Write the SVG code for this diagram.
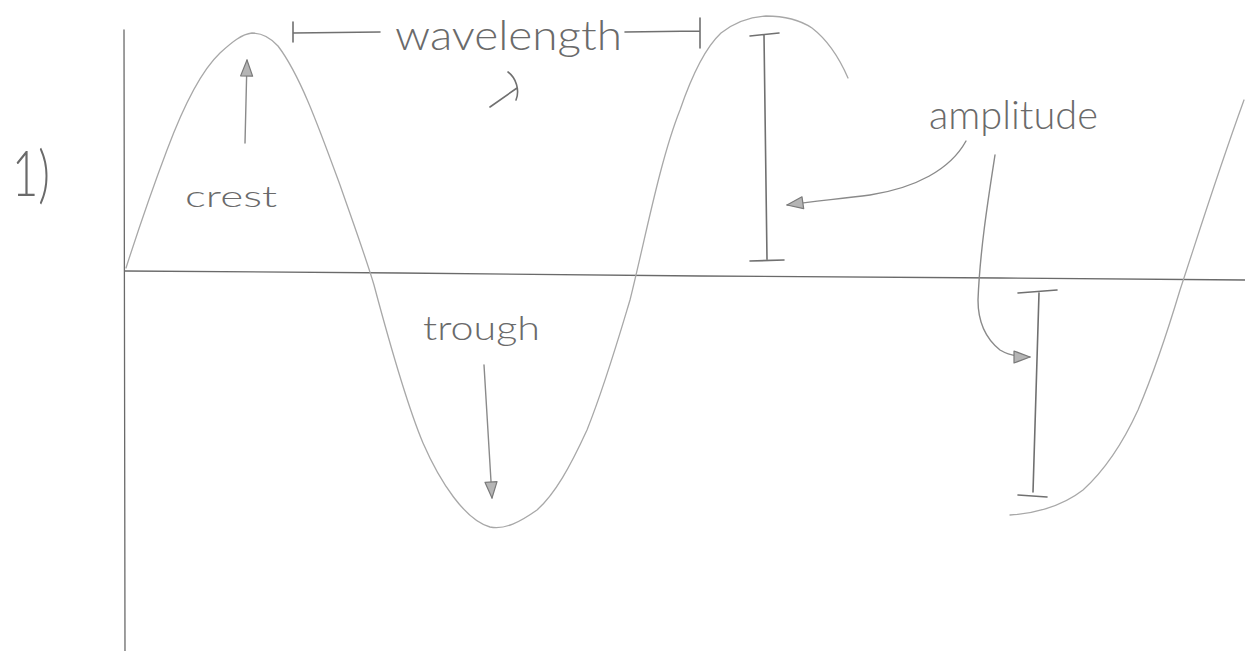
<svg xmlns="http://www.w3.org/2000/svg" width="1245" height="651" viewBox="0 0 1245 651">
<style>
.axis{fill:none;stroke:#6a6a6a;stroke-width:1.3;stroke-linecap:round}
.wave{fill:none;stroke:#a8a8a8;stroke-width:1.3;stroke-linecap:round;stroke-linejoin:round}
.ink{fill:none;stroke:#707070;stroke-width:1.6;stroke-linecap:round}
.conn{fill:none;stroke:#8a8a8a;stroke-width:1.4;stroke-linecap:round}
.lbl{font-family:Lato,"Liberation Sans",sans-serif;fill:#6a6a6a;font-weight:300}
</style>
<defs>
<marker id="ah" viewBox="0 0 18 14" refX="17" refY="7" markerWidth="18" markerHeight="14" markerUnits="userSpaceOnUse" orient="auto">
<path d="M1,1 L17,7 L1,13 Z" fill="#b5b5b5" stroke="#7a7a7a" stroke-width="1.2" stroke-linejoin="round"/>
</marker>
</defs>
<rect width="1245" height="651" fill="#ffffff"/>

<g id="axes">
<path class="axis" d="M124,30 L125,651"/>
<path class="axis" d="M125,271 L400,273 L700,276 L1000,278 L1245,280"/>
</g>

<g id="wave">
<path class="wave" d="M126,268 C135,240 150,195 167,150 C182,110 200,72 220,53 C232,42 242,34 252,33 C262,33 270,37 278,46 C300,75 318,125 340,185 C355,228 366,258 374,285 C386,330 405,400 423,443 C440,482 465,520 490,527 C505,530 520,522 537,510 C555,494 570,467 587,430 C605,385 618,340 630,300 C645,240 660,160 680,110 C692,75 705,48 721,33 C735,22 750,17 766,16 C785,16 800,20 812,28 C825,38 838,55 848,78"/>
<path class="wave" d="M1010,515 C1030,514 1060,508 1083,490 C1105,470 1122,445 1138,410 C1155,370 1168,330 1180,290 C1195,245 1215,180 1244,100"/>
</g>

<g id="label-1">
<text class="lbl" x="12" y="196" font-size="64" textLength="38" lengthAdjust="spacingAndGlyphs">1)</text>
</g>

<g id="label-crest">
<text class="lbl" x="185" y="207" font-size="30" textLength="92" lengthAdjust="spacingAndGlyphs">crest</text>
</g>

<g id="label-wavelength">
<path class="ink" d="M293,22 L293,42 M293,33 L380,32 M625,32 L700,31 M700,18 L700,48"/>
<text class="lbl" x="395" y="50" font-size="42" textLength="227" lengthAdjust="spacingAndGlyphs">wavelength</text>
<path class="ink" d="M490,107 L517,88 M508,72 C516,78 520,90 516,100"/>
</g>

<g id="label-trough">
<text class="lbl" x="423" y="340" font-size="34" textLength="117" lengthAdjust="spacingAndGlyphs">trough</text>
</g>

<g id="label-amplitude">
<text class="lbl" x="929" y="129" font-size="40" textLength="169" lengthAdjust="spacingAndGlyphs">amplitude</text>
</g>

<g id="amplitude-bar-1">
<path class="ink" d="M750,36 L779,33 M764,35 L767,259 M750,261 L784,260"/>
</g>

<g id="amplitude-bar-2">
<path class="ink" d="M1018,293 L1057,290 M1039,293 L1033,492 M1018,495 L1047,497"/>
</g>

<g id="connectors">
<path class="conn" marker-end="url(#ah)" d="M245,143 L247,60"/>
<path class="conn" marker-end="url(#ah)" d="M484,365 L492,498"/>
<path class="conn" marker-end="url(#ah)" d="M966,141 C950,170 915,188 870,195 C840,199 815,201 787,205"/>
<path class="conn" marker-end="url(#ah)" d="M995,155 C988,200 980,250 978,300 C978,320 985,338 1000,350 C1010,356 1020,357 1030,357"/>
</g>
</svg>
